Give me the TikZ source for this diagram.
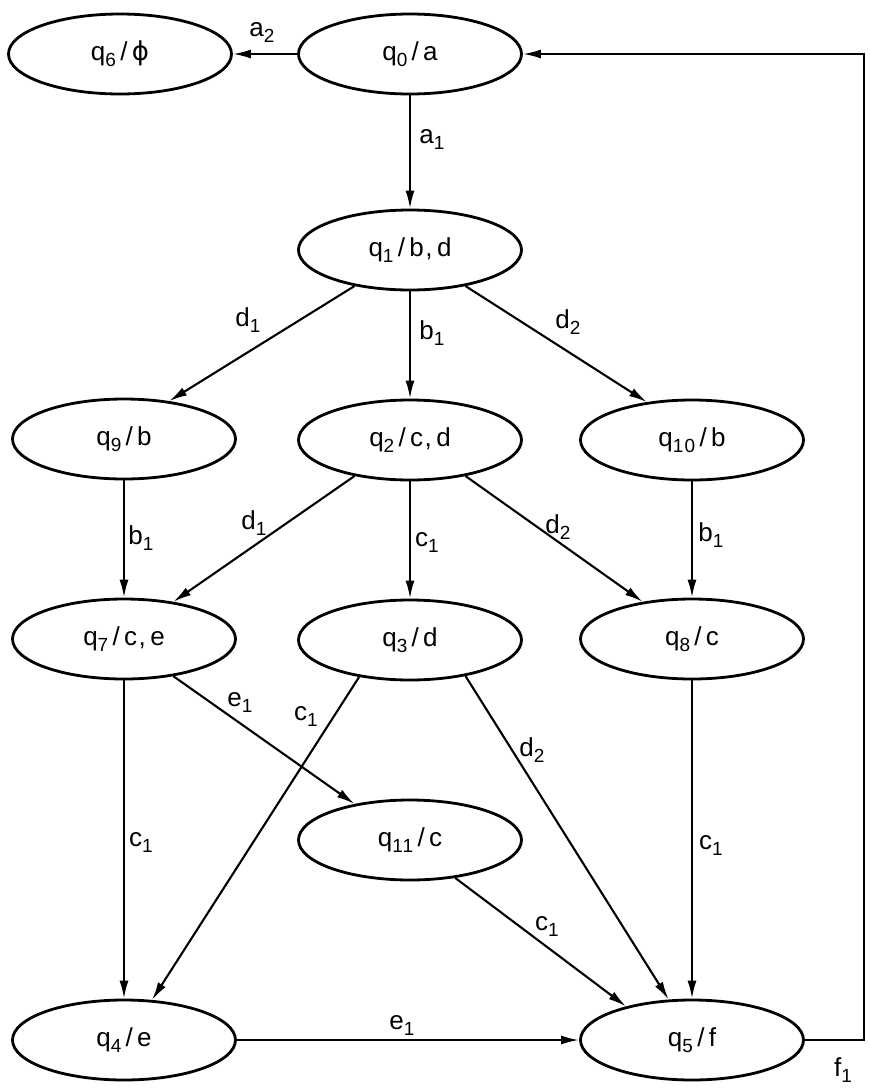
\documentclass[tikz,border=0pt]{standalone}
\usepackage{fontspec}
\setmainfont[LetterSpace=6]{Liberation Sans}
\newfontfamily\greekfont{DejaVu Sans}
\usetikzlibrary{arrows.meta,shapes.geometric}
\newcommand{\sub}[1]{\raisebox{-6pt}{\fontsize{19}{19}\selectfont #1}}
\newcommand{\qst}[2]{q\sub{#1}\,/\,#2}
\newcommand{\tr}[2]{#1\sub{#2}}

\begin{document}
\begin{tikzpicture}[
  x=1pt, y=-1pt,
  font=\fontsize{26}{30}\selectfont,
  state/.style={draw, ellipse, line width=2.8pt, minimum width=223pt,
                minimum height=80pt, inner sep=0pt},
  lbl/.style={inner sep=1pt},
  ar/.style={line width=2.1pt, -{Latex[length=18pt,width=9pt]}}
]
\useasboundingbox (0,0) rectangle (870,1090);

\node[state] (q6) at (120,54) {\qst{6}{{\greekfont ϕ}}};
\node[state] (q0) at (410,54) {\qst{0}{a}};
\node[state] (q1) at (410,250) {\qst{1}{b,\,d}};
\node[state] (q9) at (124,439) {\qst{9}{b}};
\node[state] (q2) at (410,440) {\qst{2}{c,\,d}};
\node[state] (q10) at (692,440) {\qst{10}{b}};
\node[state] (q7) at (124,639) {\qst{7}{c,\,e}};
\node[state] (q3) at (410,640) {\qst{3}{d}};
\node[state] (q8) at (692,639) {\qst{8}{c}};
\node[state] (q11) at (410,840) {\qst{11}{c}};
\node[state] (q4) at (124,1040) {\qst{4}{e}};
\node[state] (q5) at (692,1040) {\qst{5}{f}};
\coordinate (ret) at (864,1040);

\draw[ar] (q0.west) -- (q6.east);
\draw[ar] (q0.south) -- (q1.north);
\draw[ar] (q1.213) -- (q9.40);
\draw[ar] (q1.south) -- (q2.north);
\draw[ar] (q1.327) -- (q10.140);
\draw[ar] (q9.south) -- (q7.north);
\draw[ar] (q2.213) -- (q7.37);
\draw[ar] (q2.south) -- (q3.north);
\draw[ar] (q2.327) -- (q8.143);
\draw[ar] (q10.south) -- (q8.north);
\draw[ar] (q7.south) -- (q4.north);
\draw[ar] (q7.323) -- (q11.147);
\draw[ar] (q3.216) -- (q4.55);
\draw[ar] (q3.327) -- (q5.120);
\draw[ar] (q11.320) -- (q5.153);
\draw[ar] (q8.south) -- (q5.north);
\draw[ar] (q4.east) -- (q5.west);
\draw[ar] (q5.east) -- (ret) |- (q0.east);

\node[lbl] (la2) at (262,33) {\tr{a}{2}};
\node[lbl] (la1) at (432,140) {\tr{a}{1}};
\node[lbl] (ld1) at (248,320) {\tr{d}{1}};
\node[lbl] (lb1) at (432,333) {\tr{b}{1}};
\node[lbl] (ld2) at (568,322) {\tr{d}{2}};
\node[lbl] (lb1l) at (141,538) {\tr{b}{1}};
\node[lbl] (ld1m) at (254,523) {\tr{d}{1}};
\node[lbl] (lc1m) at (427,542) {\tr{c}{1}};
\node[lbl] (ld2m) at (558,527) {\tr{d}{2}};
\node[lbl] (lb1r) at (711,535) {\tr{b}{1}};
\node[lbl] (lc1l) at (141,842) {\tr{c}{1}};
\node[lbl] (lc1x) at (306,716) {\tr{c}{1}};
\node[lbl] (le1) at (240,702) {\tr{e}{1}};
\node[lbl] (ld2x) at (532,750) {\tr{d}{2}};
\node[lbl] (lc1y) at (547,926) {\tr{c}{1}};
\node[lbl] (lc1r) at (711,845) {\tr{c}{1}};
\node[lbl] (le1b) at (402,1025) {\tr{e}{1}};
\node[lbl] (lf1) at (843,1070) {\tr{f}{1}};
\end{tikzpicture}
\end{document}
